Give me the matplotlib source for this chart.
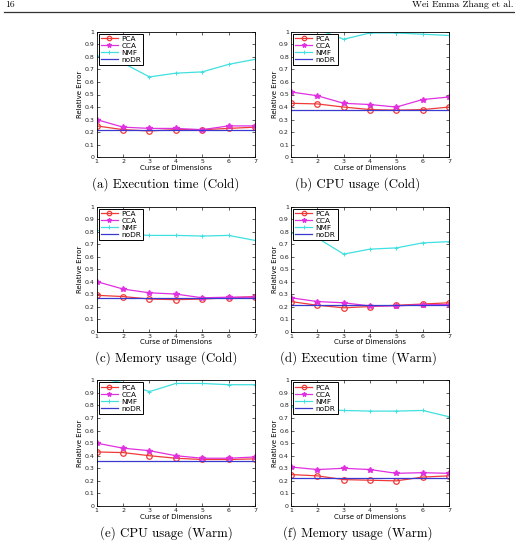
#!/usr/bin/env python3
import numpy as np
import matplotlib
matplotlib.use("Agg")
import matplotlib.pyplot as plt

dims = [1, 2, 3, 4, 5, 6, 7]
methods = ["PCA", "CCA", "NMF", "noDR"]

captions = ["(a) Execution time (Cold)", "(b) CPU usage (Cold)",
            "(c) Memory usage (Cold)", "(d) Execution time (Warm)",
            "(e) CPU usage (Warm)", "(f) Memory usage (Warm)"]

# one list per method, one row per panel
pca = [[0.25, 0.22, 0.21, 0.22, 0.22, 0.23, 0.24],
       [0.43, 0.425, 0.40, 0.38, 0.375, 0.38, 0.40],
       [0.29, 0.28, 0.26, 0.255, 0.26, 0.27, 0.28],
       [0.24, 0.21, 0.19, 0.20, 0.21, 0.22, 0.23],
       [0.43, 0.425, 0.40, 0.38, 0.37, 0.37, 0.375],
       [0.25, 0.24, 0.21, 0.205, 0.20, 0.23, 0.24]]
cca = [[0.30, 0.24, 0.23, 0.23, 0.22, 0.25, 0.25],
       [0.52, 0.49, 0.43, 0.42, 0.40, 0.46, 0.48],
       [0.40, 0.34, 0.31, 0.30, 0.27, 0.275, 0.275],
       [0.27, 0.24, 0.23, 0.205, 0.205, 0.215, 0.215],
       [0.50, 0.46, 0.44, 0.40, 0.38, 0.38, 0.39],
       [0.31, 0.29, 0.30, 0.29, 0.26, 0.265, 0.26]]
nmf = [[0.81, 0.75, 0.64, 0.67, 0.68, 0.74, 0.78],
       [1.00, 1.02, 0.94, 0.99, 0.99, 0.98, 0.97],
       [0.81, 0.78, 0.77, 0.77, 0.765, 0.77, 0.73],
       [0.79, 0.75, 0.62, 0.66, 0.67, 0.71, 0.72],
       [1.02, 0.98, 0.91, 0.975, 0.975, 0.965, 0.965],
       [0.79, 0.77, 0.76, 0.755, 0.755, 0.76, 0.71]]
nodr = [0.22, 0.38, 0.27, 0.21, 0.36, 0.22]

W, H = 515, 541
fig = plt.figure(figsize=(W / 100, H / 100), dpi=100, facecolor="w")

# page header
fig.text(5 / W, 1 - 1 / H, "16", fontfamily="cmr10", fontsize=7, va="top")
fig.text(513 / W, 1 - 1 / H, "Wei Emma Zhang et al.", fontfamily="cmr10",
         fontsize=7, va="top", ha="right")
fig.add_artist(plt.Line2D([4 / W, 1], [1 - 12 / H, 1 - 12 / H], color="#333333", lw=0.9))

cols = [(96.7, 255), (291, 449)]
rows = [(31.7, 157.3), (206.7, 331.5), (380.3, 506)]
cap_y = [184, 358, 532.7]
cap_x = [166, 358]

for i in range(6):
    r, c = divmod(i, 2)
    x0, x1 = cols[c]
    t, b = rows[r]
    ax = fig.add_axes([x0 / W, 1 - b / H, (x1 - x0) / W, (b - t) / H])

    ax.plot(dims, pca[i], color="#f03a3a", lw=0.9, marker="o", ms=4,
            mfc="none", mew=0.9, label="PCA")
    ax.plot(dims, cca[i], color="#e030e0", lw=0.9, marker="*", ms=4,
            label="CCA")
    ax.plot(dims, nmf[i], color="#40e0e0", lw=0.9, marker="+", ms=3,
            mew=0.7, label="NMF")
    ax.plot(dims, [nodr[i]] * len(dims), color="#3a3ad0", lw=0.9, label="noDR")

    ax.set_xlim(1, 7)
    ax.set_ylim(0, 1)
    ax.set_xticks(dims)
    ax.set_yticks(np.arange(0, 1.01, 0.1))
    ax.set_yticklabels(["0"] + ["%.1f" % v for v in np.arange(0.1, 0.95, 0.1)] + ["1"])
    ax.tick_params(direction="in", length=2, width=0.5, labelsize=4.5,
                   top=True, right=True, pad=1.5, colors="#222222")
    for s in ax.spines.values():
        s.set_linewidth(0.6)
    ax.set_xlabel("Curse of Dimensions", fontsize=5, labelpad=0.5)
    ax.set_ylabel("Relative Error", fontsize=5, labelpad=1)

    leg = ax.legend(loc="upper left", fontsize=5.3, handlelength=2.3,
                    borderpad=0.3, labelspacing=0.12, handletextpad=0.5,
                    fancybox=False, framealpha=1, borderaxespad=0.25,
                    markerscale=0.8)
    leg.get_frame().set_edgecolor("black")
    leg.get_frame().set_linewidth(0.7)

    fig.text(cap_x[c] / W, 1 - cap_y[r] / H, captions[i], fontfamily="cmr10",
             fontsize=9.3, ha="center", va="center")

fig.savefig("out.png", dpi=100)
